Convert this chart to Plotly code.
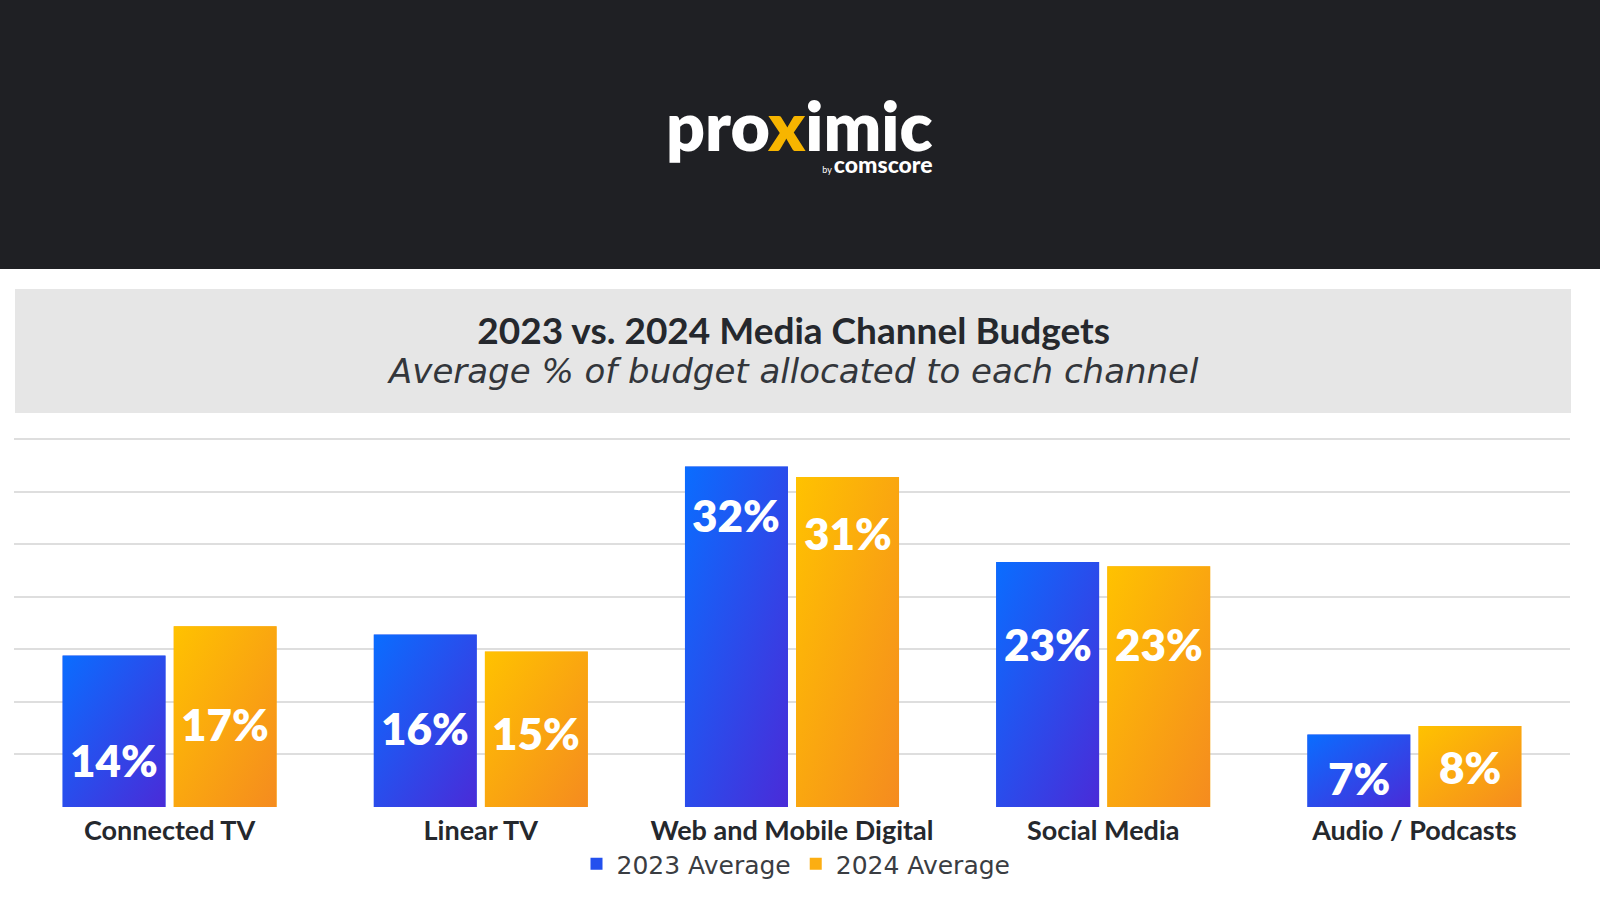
import base64
import plotly.graph_objects as go

# ---------------- data ----------------
categories = ["Connected TV", "Linear TV", "Web and Mobile Digital", "Social Media", "Audio / Podcasts"]
series_names = ["2023 Average", "2024 Average"]
values_2023 = [14.4, 16.4, 32.4, 23.3, 6.9]
values_2024 = [17.2, 14.8, 31.4, 22.9, 7.7]

title_text = "2023 vs. 2024 Media Channel Budgets"
subtitle_text = "Average % of budget allocated to each channel"

# ---------------- style ----------------
W, H = 1600, 900
ML, MR, MT, MB = 14, 30, 438, 93
PW, PH = W - ML - MR, H - MT - MB
FONT = "Lato"
FONT2 = "DejaVu Sans"
TEXT_DARK = "#25282d"
BLUE_SOLID, ORANGE_SOLID = "#2350ee", "#fcae12"
BLUE_STOPS = ("#0a6dff", "#4a2bd8")
ORANGE_STOPS = ("#ffc200", "#f58b1f")
BAR_W = 0.331          # bar width in category units
INNER_GAP = 0.026      # gap between the paired bars
OFFSETS = [-(BAR_W + INNER_GAP / 2), INNER_GAP / 2]
# label drop (px below the bar top) for each bar label
label_drop_2023 = [104, 93, 49, 82, 44]
label_drop_2024 = [98, 82, 56, 78, 41]


def px(x):
    return (x - ML) / PW


def py(y):
    return (H - MB - y) / PH


def gradient_uri(c0, c1):
    svg = (
        '<svg xmlns="http://www.w3.org/2000/svg" width="100" height="100" '
        'viewBox="0 0 100 100" preserveAspectRatio="none">'
        '<defs><linearGradient id="g" x1="0" y1="0" x2="1" y2="1">'
        f'<stop offset="0" stop-color="{c0}"/><stop offset="1" stop-color="{c1}"/>'
        '</linearGradient></defs><rect width="100" height="100" fill="url(#g)"/></svg>'
    )
    return "data:image/svg+xml;base64," + base64.b64encode(svg.encode()).decode()


fig = go.Figure()
series = [(values_2023, BLUE_SOLID, BLUE_STOPS, label_drop_2023),
          (values_2024, ORANGE_SOLID, ORANGE_STOPS, label_drop_2024)]

images = []
annotations = []
for k, (vals, solid, stops, drops) in enumerate(series):
    fig.add_trace(go.Bar(
        x=categories, y=vals, name=series_names[k],
        marker=dict(color=solid, line=dict(width=0)),
        width=BAR_W, offset=OFFSETS[k], hoverinfo="x+y",
    ))
    uri = gradient_uri(*stops)
    for i, v in enumerate(vals):
        images.append(dict(
            source=uri, xref="x", yref="y", x=i + OFFSETS[k], y=v,
            sizex=BAR_W, sizey=v, xanchor="left", yanchor="top",
            sizing="stretch", layer="above",
        ))
        annotations.append(dict(
            x=i + OFFSETS[k] + BAR_W / 2, y=v, xref="x", yref="y",
            text=f"{v:.0f}%", showarrow=False, yanchor="middle",
            yshift=-drops[i],
            font=dict(family=FONT, size=44, color="white", weight=800),
        ))

logo_text = (
    "<span style='font-size:68px;font-weight:800'>pro</span>"
    "<span style='font-size:68px;font-weight:800;fill:#f7b500'>x</span>"
    "<span style='font-size:68px;font-weight:800'>imic</span>"
    "<br><span style='font-size:9px'>by </span>"
    "<span style='font-size:23px;font-weight:900'>comscore</span>"
)
title_block = (
    f"<span style='font-size:37px;font-weight:700'>{title_text}</span>"
    f"<br><span style='font-family:{FONT2};font-size:34px;font-weight:300;"
    f"font-style:italic;fill:#33363b'>{subtitle_text}</span>"
)

annotations += [
    dict(x=px(935), y=py(131), xref="paper", yref="paper", showarrow=False,
         text=logo_text, align="right",
         font=dict(family=FONT, size=17, color="white"),
         xanchor="right", yanchor="middle"),
    dict(x=px(793), y=py(349), xref="paper", yref="paper", showarrow=False,
         text=title_block, align="center",
         font=dict(family=FONT, size=30, color=TEXT_DARK),
         xanchor="center", yanchor="middle"),
]

shapes = [
    dict(type="rect", xref="paper", yref="paper", x0=px(0), x1=px(W), y0=py(0), y1=py(269),
         fillcolor="#1f2024", line=dict(width=0), layer="below"),
    dict(type="rect", xref="paper", yref="paper", x0=px(15), x1=px(1571), y0=py(289), y1=py(413),
         fillcolor="#e6e6e6", line=dict(width=0), layer="below"),
    dict(type="line", xref="paper", yref="y", x0=px(23), x1=px(310), y0=0, y1=0,
         line=dict(color="white", width=4), layer="between"),
]

fig.update_layout(
    width=W, height=H,
    margin=dict(l=ML, r=MR, t=MT, b=MB),
    paper_bgcolor="white", plot_bgcolor="white",
    barmode="group",
    font=dict(family=FONT, color=TEXT_DARK),
    showlegend=True,
    legend=dict(orientation="h", x=px(796), xanchor="center", y=py(864), yanchor="middle",
                font=dict(family=FONT2, size=25, color="#3a3d42"),
                itemwidth=30, bgcolor="rgba(0,0,0,0)"),
    xaxis=dict(type="category", showgrid=False, showline=False, ticks="",
               tickfont=dict(family=FONT, size=27, color=TEXT_DARK, weight=700),
               ticklabelstandoff=5,
               range=[-0.5, 4.5], fixedrange=True),
    yaxis=dict(range=[0, 35.1], dtick=5, showticklabels=False, showgrid=True,
               gridcolor="#dedede", gridwidth=2, zeroline=False, showline=False,
               fixedrange=True),
    images=images,
    annotations=annotations,
    shapes=shapes,
)

fig.write_html("out.html")
